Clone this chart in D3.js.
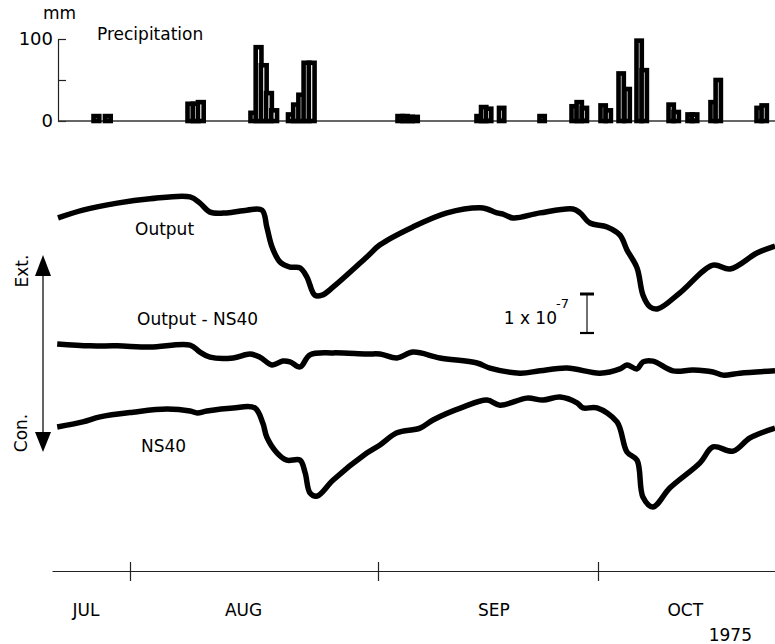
<!DOCTYPE html>
<html><head><meta charset="utf-8">
<script src="https://cdn.jsdelivr.net/npm/d3@7/dist/d3.min.js"></script>
<style>
html,body{margin:0;padding:0;background:#fff;}
text{font-family:"DejaVu Sans",sans-serif;fill:#000;}
</style></head>
<body><svg id="c" width="775" height="644"></svg>
<script>
// ---- data (days counted from 1 Aug 1975 = 0) ----
const monthTickDays = [0, 31, 61];              // 1 Aug, 1 Sep, 1 Oct
const monthLabels = ["JUL", "AUG", "SEP", "OCT"];
const monthLabelDays = [-5.5, 14.2, 46.8, 72.9];
const yearLabel = "1975";

const precipTicks = [0, 50, 100];
const precipDay = [-4.56, -3.13, 7.19, 7.84, 8.49, 15.06, 15.71, 16.36, 17.01, 17.66,
  19.75, 20.4, 21.05, 21.7, 22.35, 33.66, 34.34, 35.02, 35.7, 44.43, 45.05, 45.73, 47.5,
  53.02, 57.39, 58.08, 58.78, 61.34, 62.04, 63.8, 64.62, 66.25, 66.95, 70.62, 71.31,
  73.21, 73.82, 76.34, 77.04, 82.62, 83.31];
const precipMM = [6, 6, 21, 21, 23, 10, 90, 68, 34, 13,
  8, 20, 32, 71, 71, 6, 6, 5, 5, 6, 17, 15, 16,
  6, 18, 23, 16, 19, 13, 58, 39, 98, 62, 20, 11,
  8, 8, 23, 50, 16, 19];
const precipBinDays = 0.72;

// strain curves, in units of 1e-7 (offset for display)
const outputDay = [-9.0, -5.9, -1.6, 2.5, 7.5, 8.75, 10.0, 12.1, 14.6, 16.5, 17.1, 17.75, 18.75, 20.0,
  21.25, 22.1, 23.1, 24.0, 25.4, 29.6, 31.27, 35.77, 40.41, 44.91, 45.86, 47.23, 48.05, 49.41,
  53.09, 57.59, 58.55, 59.91, 62.23, 64.0, 64.95, 66.32, 67.14, 68.09, 69.18, 72.18, 76.68, 79.0,
  82.68, 85.14];
const outputVal = [2.95, 3.15, 3.33, 3.44, 3.49, 3.33, 3.10, 3.08, 3.15, 3.15, 2.72, 2.21, 1.82, 1.69,
  1.67, 1.44, 0.97, 0.97, 1.18, 1.95, 2.26, 2.72, 3.08, 3.21, 3.18, 3.08, 3.05, 2.95,
  3.08, 3.18, 3.08, 2.82, 2.72, 2.51, 2.13, 1.67, 0.97, 0.67, 0.62, 1.03, 1.74, 1.64,
  2.05, 2.23];

const diffDay = [-9.1, -5.0, -1.6, 2.5, 7.5, 8.75, 10.0, 12.9, 15.0, 16.25, 17.75, 19.1, 20.0, 21.25,
  22.5, 25.4, 29.6, 31.27, 33.59, 35.77, 39.45, 44.5, 46.27, 50.36, 53.09, 56.77, 61.27, 64.0,
  64.95, 66.32, 67.14, 68.5, 71.23, 73.95, 76.68, 78.05, 80.36, 85.14];
const diffVal = [-0.28, -0.33, -0.33, -0.36, -0.31, -0.49, -0.62, -0.64, -0.54, -0.62, -0.82, -0.72, -0.74, -0.87,
  -0.56, -0.51, -0.54, -0.54, -0.64, -0.49, -0.64, -0.77, -0.90, -1.03, -0.97, -0.90, -1.03, -0.92,
  -0.82, -0.92, -0.74, -0.72, -0.97, -0.95, -1.00, -1.08, -1.03, -0.97];

const ns40Day = [-9.1, -5.9, -3.75, 0.38, 4.6, 7.5, 8.4, 9.6, 12.9, 15.6, 16.6, 17.1, 18.4, 19.6,
  21.25, 21.9, 22.5, 23.4, 25.4, 29.6, 31.27, 33.59, 36.73, 38.5, 42.59, 45.86, 47.64, 51.32,
  53.5, 55.82, 58.14, 58.95, 60.86, 63.59, 64.95, 66.32, 67.14, 68.5, 70.82, 74.91, 76.68, 79.41,
  81.73, 85.14];
const ns40Val = [-2.41, -2.28, -2.15, -2.03, -1.95, -2.00, -2.05, -2.00, -1.92, -1.92, -2.31, -2.67, -3.08, -3.26,
  -3.26, -3.59, -4.10, -4.18, -3.77, -3.08, -2.87, -2.56, -2.44, -2.23, -1.90, -1.72, -1.85, -1.67,
  -1.72, -1.64, -1.79, -1.92, -1.92, -2.28, -3.05, -3.26, -4.21, -4.46, -3.97, -3.33, -2.92, -3.03,
  -2.69, -2.44];

const scaleBarUnits = [0, 1];   // 1 x 10^-7

// ---- drawing ----
const svg = d3.select("#c");
const x = d3.scaleLinear().domain([-9.75, 0, 31, 61, 85.14]).range([52, 130, 378, 598, 775]);
const yP = d3.scaleLinear().domain([0, 100]).range([121, 39]);
const yS = d3.scaleLinear().domain([0, 1]).range([333, 294]);

// precipitation axis
const pAxis = svg.append("g").attr("transform", "translate(58,0)")
  .call(d3.axisLeft(yP).tickValues(precipTicks).tickSize(-8).tickSizeOuter(0).tickPadding(5)
    .tickFormat(d => d === 50 ? "" : d));
pAxis.select(".domain").attr("stroke", "#222").attr("stroke-width", 1.2);
pAxis.selectAll(".tick line").attr("stroke", "#222").attr("stroke-width", 1.2);
pAxis.selectAll(".tick text").style("font-family", "DejaVu Sans").style("font-size", "18px").attr("fill", "#000");

svg.append("line").attr("x1", 58).attr("x2", 775).attr("y1", yP(0)).attr("y2", yP(0))
  .attr("stroke", "#333").attr("stroke-width", 1.3);

svg.append("text").attr("x", 43).attr("y", 19).style("font-size", "17px").text("mm");
svg.append("text").attr("x", 97).attr("y", 40).style("font-size", "17px").text("Precipitation");

const bars = precipDay.map((d, i) => ({d, v: precipMM[i]}));
svg.append("g").selectAll("rect").data(bars).join("rect")
  .attr("x", b => x(b.d))
  .attr("width", b => x(b.d + precipBinDays) - x(b.d))
  .attr("y", b => yP(b.v))
  .attr("height", b => yP(0) - yP(b.v))
  .attr("fill", "#fff").attr("stroke", "#000").attr("stroke-width", 4.6);

// curves
const line = d3.line().x(p => x(p[0])).y(p => yS(p[1])).curve(d3.curveCatmullRom.alpha(0.5));
const series = [
  [outputDay, outputVal],
  [diffDay, diffVal],
  [ns40Day, ns40Val]
];
series.forEach(([ds, vs]) => {
  svg.append("path").datum(ds.map((d, i) => [d, vs[i]]))
    .attr("d", line).attr("fill", "none").attr("stroke", "#000")
    .attr("stroke-width", 5.5).attr("stroke-linejoin", "round").attr("stroke-linecap", "butt");
});

svg.append("text").attr("x", 135).attr("y", 235).style("font-size", "17px").text("Output");
svg.append("text").attr("x", 137).attr("y", 325).style("font-size", "17px").text("Output - NS40");
svg.append("text").attr("x", 141).attr("y", 452).style("font-size", "17px").text("NS40");

// Ext./Con. arrow
svg.append("line").attr("x1", 43).attr("x2", 43).attr("y1", 270).attr("y2", 438)
  .attr("stroke", "#111").attr("stroke-width", 1.3);
svg.append("path").attr("d", "M43,255 L35,276 L51,276 Z").attr("fill", "#000");
svg.append("path").attr("d", "M43,452 L35,432 L51,432 Z").attr("fill", "#000");
svg.append("text").attr("transform", "translate(28,271) rotate(-90)").attr("text-anchor", "middle")
  .style("font-size", "17px").text("Ext.");
svg.append("text").attr("transform", "translate(27,433) rotate(-90)").attr("text-anchor", "middle")
  .style("font-size", "17px").text("Con.");

// scale bar
const sbx = 587;
svg.append("line").attr("x1", sbx).attr("x2", sbx).attr("y1", yS(scaleBarUnits[0])).attr("y2", yS(scaleBarUnits[1]))
  .attr("stroke", "#222").attr("stroke-width", 1.3);
scaleBarUnits.forEach(u => {
  svg.append("line").attr("x1", sbx - 7).attr("x2", sbx + 7).attr("y1", yS(u)).attr("y2", yS(u))
    .attr("stroke", "#000").attr("stroke-width", u === 1 ? 3 : 2.2);
});
svg.append("text").attr("x", 557).attr("y", 324).attr("text-anchor", "end").style("font-size", "17px").text("1 x 10");
svg.append("text").attr("x", 556).attr("y", 308).style("font-size", "13px").text("-7");

// time axis
const tAxis = svg.append("g").attr("transform", "translate(0,571)")
  .call(d3.axisBottom(x).tickValues(monthTickDays).tickSize(10).tickSizeOuter(0).tickFormat(""));
tAxis.select(".domain").attr("stroke", "#222").attr("stroke-width", 1.2);
tAxis.selectAll(".tick line").attr("y1", -9).attr("y2", 10).attr("stroke", "#222").attr("stroke-width", 1.2);

svg.append("g").selectAll("text").data(monthLabels).join("text")
  .attr("x", (m, i) => x(monthLabelDays[i])).attr("y", 616).attr("text-anchor", "middle")
  .style("font-size", "17px").text(m => m);
svg.append("text").attr("x", 752).attr("y", 641).attr("text-anchor", "end").style("font-size", "17px").text(yearLabel);
</script></body></html>
